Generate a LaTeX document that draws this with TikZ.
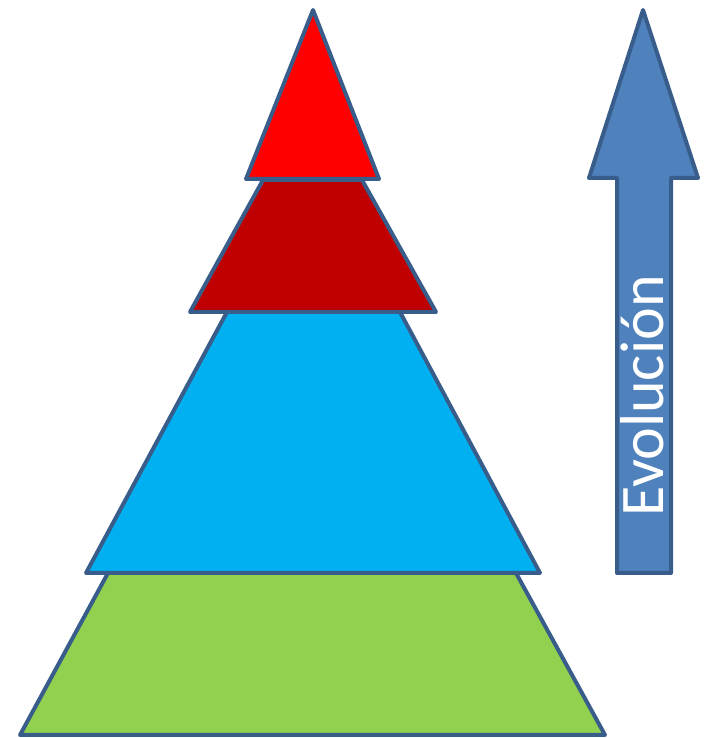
\documentclass[tikz,border=0pt]{standalone}
\usepackage{fontspec}
\setmainfont{Carlito}
\definecolor{edgeblue}{HTML}{385D8A}
\definecolor{arrowblue}{HTML}{4F81BD}
\definecolor{topred}{HTML}{FF0000}
\definecolor{darkred}{HTML}{C00000}
\definecolor{midblue}{HTML}{00B0F0}
\definecolor{basegreen}{HTML}{92D050}
\tikzset{layer/.style={draw=edgeblue,line width=4pt,line join=round}}
\begin{document}
\begin{tikzpicture}[x=1pt,y=1pt]
\useasboundingbox (0,0) rectangle (709,738);
% --- pyramid layers, bottom to top ---
\filldraw[layer,fill=basegreen] (108,165) -- (516,165) -- (605,3) -- (20,3) -- cycle;
\filldraw[layer,fill=midblue] (227,426) -- (400,426) -- (540,165) -- (86,165) -- cycle;
\filldraw[layer,fill=darkred] (263,558) -- (362,558) -- (436,426) -- (190,426) -- cycle;
\filldraw[layer,fill=topred] (313,728) -- (379,559) -- (246,559) -- cycle;
% --- arrow ---
\filldraw[layer,fill=arrowblue] (643,728) -- (698,560) -- (671,560) -- (671,165)
  -- (617,165) -- (617,560) -- (589,560) -- cycle;
\node[rotate=90,anchor=base west,inner sep=0pt,text=white,
  font=\fontsize{62}{70}\selectfont] (evo) at (663,221) {Evolución};
\end{tikzpicture}
\end{document}
